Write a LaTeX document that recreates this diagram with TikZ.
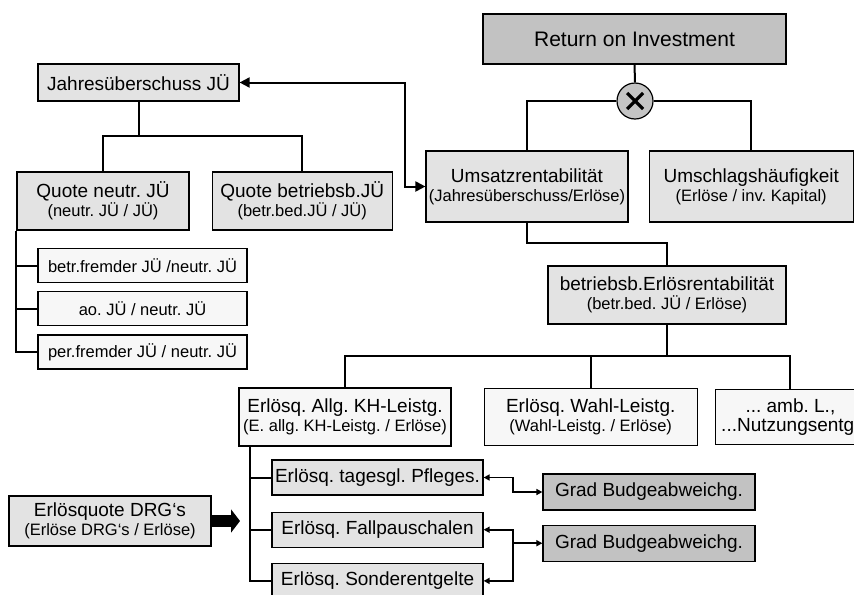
\documentclass[tikz,border=0pt]{standalone}
\usepackage{fontspec}
\setmainfont{Liberation Sans}
\usetikzlibrary{arrows.meta,positioning}

\definecolor{boxgrey}{gray}{0.89}
\definecolor{boxpale}{gray}{0.97}
\definecolor{boxdark}{gray}{0.76}
\definecolor{circgrey}{gray}{0.77}
\newcommand\subline[1]{{\fontsize{8.25}{9.5}\selectfont #1}}
\frenchspacing

\begin{document}
\begin{tikzpicture}[x=0.5pt,y=-0.5pt,
    kpibox/.style={draw,line width=0.6pt,inner sep=1pt,align=center,
                   font=\fontsize{9.5}{9.5}\selectfont},
    greybox/.style={kpibox,fill=boxgrey},
    palebox/.style={kpibox,fill=boxpale},
    darkbox/.style={kpibox,fill=boxdark},
    link/.style={line width=1pt},
    bitip/.style={line width=1pt,{Triangle[length=5pt,width=5pt]}-{Triangle[length=5pt,width=5pt]}},
    gtip/.style={line width=0.8pt,{Triangle[length=3pt,width=3pt]}-{Triangle[length=3pt,width=3pt]}},
    gend/.style={line width=0.8pt,-{Triangle[length=3pt,width=3pt]}}]

    \useasboundingbox (0,0) rectangle (854,594);

    % top
    \node[darkbox,minimum width=151.5pt,minimum height=25pt,font=\fontsize{10.5}{10.5}\selectfont]
        (roi) at (634.5,39) {Return on Investment};
    \node[circle,draw,line width=0.6pt,fill=circgrey,minimum size=18pt,inner sep=0pt]
        (times) at (635,101) {};
    \node[greybox,minimum width=101pt,minimum height=35.5pt] (umsatz) at (527,186.5)
        {Umsatzrentabilität\\\subline{(Jahresüberschuss/Erlöse)}};
    \node[greybox,minimum width=102pt,minimum height=35.5pt] (umschlag) [right=10pt of umsatz]
        {Umschlagshäufigkeit\\\subline{(Erlöse / inv. Kapital)}};

    % left branch
    \node[greybox,minimum width=100.5pt,minimum height=18.5pt] (jue) at (138.5,82.5)
        {Jahresüberschuss JÜ};
    \node[greybox,minimum width=86pt,minimum height=29pt] (qneutr) at (103,201)
        {Quote neutr. JÜ\\\subline{(neutr. JÜ / JÜ)}};
    \node[greybox,minimum width=90pt,minimum height=29pt] (qbetr) [right=11pt of qneutr]
        {Quote betriebsb.JÜ\\\subline{(betr.bed.JÜ / JÜ)}};
    \node[palebox,minimum width=104.5pt,minimum height=17pt,font=\fontsize{8.25}{9.5}\selectfont]
        (s1) at (142.5,265.5) {betr.fremder JÜ /neutr. JÜ};
    \node[palebox,minimum width=104.5pt,minimum height=17pt,font=\fontsize{8.25}{9.5}\selectfont]
        (s2) [below=4pt of s1] {ao. JÜ / neutr. JÜ};
    \node[palebox,minimum width=104.5pt,minimum height=17pt,font=\fontsize{8.25}{9.5}\selectfont]
        (s3) [below=4pt of s2] {per.fremder JÜ / neutr. JÜ};

    % lower branch
    \node[greybox,minimum width=119pt,minimum height=29pt] (betr) at (667,295)
        {betriebsb.Erlösrentabilität\\\subline{(betr.bed. JÜ / Erlöse)}};
    \node[palebox,minimum width=106pt,minimum height=29pt] (allg) at (345,417)
        {Erlösq. Allg. KH-Leistg.\\\subline{(E. allg. KH-Leistg. / Erlöse)}};
    \node[palebox,minimum width=106.5pt,minimum height=28.5pt] (wahl) [right=16pt of allg]
        {Erlösq. Wahl-Leistg.\\\subline{(Wahl-Leistg. / Erlöse)}};
    \node[palebox,minimum width=75pt,minimum height=27.5pt,inner sep=0pt] (amb) [right=8.5pt of wahl]
        {... amb. L.,\\...Nutzungsentg.};
    \node[greybox,minimum width=105.5pt,minimum height=17.5pt] (tag) at (377.5,477.5)
        {Erlösq. tagesgl. Pfleges.};
    \node[greybox,minimum width=105.5pt,minimum height=17.5pt] (fall) [below=8pt of tag]
        {Erlösq. Fallpauschalen};
    \node[greybox,minimum width=105.5pt,minimum height=17.5pt] (sond) [below=7.5pt of fall]
        {Erlösq. Sonderentgelte};
    \node[darkbox,minimum width=106pt,minimum height=18pt] (grad1) at (649,492)
        {Grad Budgeabweichg.};
    \node[darkbox,minimum width=106pt,minimum height=18pt] (grad2) [below=7pt of grad1]
        {Grad Budgeabweichg.};
    \node[greybox,minimum width=101pt,minimum height=25pt] (drg) at (110,521)
        {Erlösquote DRG‘s\\\subline{(Erlöse DRG‘s / Erlöse)}};

    % bends
    \coordinate (jbend) at (405,0);
    \coordinate (jbus) at (0,136);
    \coordinate (ubus) at (0,243);
    \coordinate (bbus) at (0,356);
    \coordinate (abus) at (250,0);
    \coordinate (gbus) at (513,0);
    \coordinate (drgtip) at (240,521);

    % the cross
    \draw[line width=1.6pt] ([shift={(-8,-8)}]times.center) -- ([shift={(8,8)}]times.center);
    \draw[line width=1.6pt] ([shift={(-8,8)}]times.center) -- ([shift={(8,-8)}]times.center);

    % connectors
    \draw[link] (roi.south) -- (times.north);
    \draw[link] (times.west) -| (umsatz.north);
    \draw[link] (times.east) -| (umschlag.north);
    \draw[bitip] (jue.east) -- (jue.east -| jbend) |- (umsatz.west);
    \draw[link] (jue.south) -- (jue.south |- jbus);
    \draw[link] (qneutr.north) |- (qbetr.north |- jbus) -- (qbetr.north);
    \draw[link] (qneutr.south west) |- (s3.west);
    \draw[link] (qneutr.south west |- s1.west) -- (s1.west);
    \draw[link] (qneutr.south west |- s2.west) -- (s2.west);
    \draw[link] (umsatz.south) |- (betr.north |- ubus) -- (betr.north);
    \draw[link] (betr.south) -- (betr.south |- bbus);
    \draw[link] (allg.north) |- (amb.north |- bbus) -- (amb.north);
    \draw[link] (wahl.north) -- (wahl.north |- bbus);
    \draw[link] (abus |- allg.south) |- (sond.west);
    \draw[link] (abus |- tag.west) -- (tag.west);
    \draw[link] (abus |- fall.west) -- (fall.west);
    \draw[gtip] (tag.east) -| (gbus |- grad1.west) -- (grad1.west);
    \draw[gtip] (fall.east) -| (gbus |- sond.east) -- (sond.east);
    \draw[gend] (gbus |- grad2.west) -- (grad2.west);
    \draw[line width=6pt,-{Triangle[length=4.5pt,width=11.5pt]}] (drg.east) -- (drgtip);
\end{tikzpicture}
\end{document}
